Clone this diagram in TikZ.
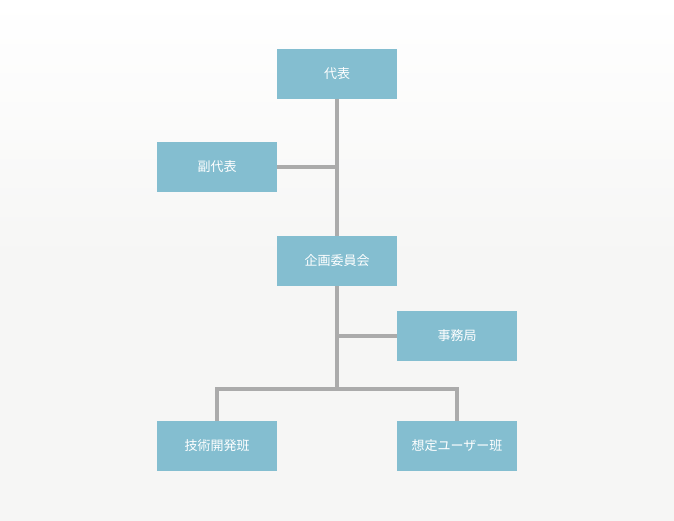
\documentclass[tikz,border=0pt]{standalone}
\usepackage{fontspec}
\setmainfont{Noto Sans CJK JP}
\definecolor{boxc}{HTML}{84BED0}
\definecolor{linec}{HTML}{ABABAB}
\definecolor{bgc}{HTML}{F6F6F5}
\begin{document}
\begin{tikzpicture}[x=1pt,y=-1pt,
  unit/.style={fill=boxc,minimum width=120pt,minimum height=50pt,inner sep=0pt,text=white,font=\fontsize{13}{15}\selectfont},
  conn/.style={draw=linec,line width=4pt}]
\shade[top color=white,bottom color=bgc,middle color=bgc] (0,0) rectangle (674,520);
\useasboundingbox (0,0) rectangle (674,520);
\node[unit] (rep) at (337,74) {代表};
\node[unit] (vice) at (217,167) {副代表};
\node[unit] (plan) at (337,261) {企画委員会};
\node[unit] (office) at (457,336) {事務局};
\node[unit] (tech) at (217,446) {技術開発班};
\node[unit] (user) at (457,446) {想定ユーザー班};
\coordinate (j1) at (337,167);
\coordinate (j2) at (337,336);
\coordinate (j3) at (337,389);
\coordinate (jl) at (217,389);
\coordinate (jr) at (457,389);
\draw[conn] (rep.south) -- (plan.north);
\draw[conn] (vice.east) -- (j1);
\draw[conn] (plan.south) -- (j3);
\draw[conn] (j2) -- (office.west);
\draw[conn,line join=miter] (tech.north) -- (jl) -- (jr) -- (user.north);
\end{tikzpicture}
\end{document}
